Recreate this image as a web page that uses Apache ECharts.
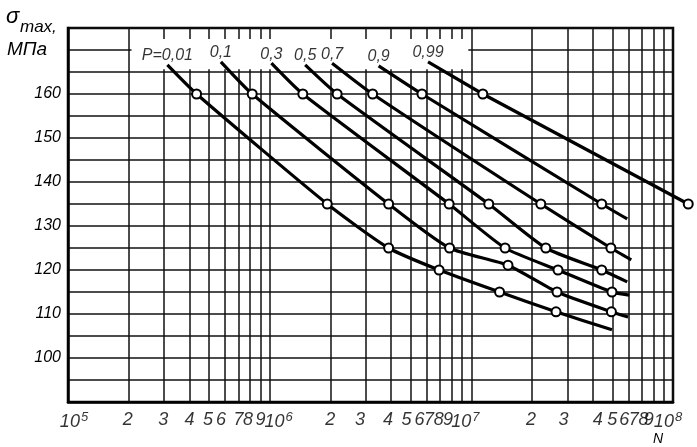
<!DOCTYPE html>
<html><head><meta charset="utf-8">
<script src="https://cdn.jsdelivr.net/npm/echarts@6/dist/echarts.min.js"></script>
<style>html,body{margin:0;padding:0;background:#fff}#c{width:697px;height:447px}</style>
</head><body><div id="c"></div>
<script>
// ---- data (N = cycles, S = sigma_max, MPa) ----
const probLabels = ['P=0,01', '0,1', '0,3', '0,5', '0,7', '0,9', '0,99'];
const N_p001 = [3.11e5, 4.34e5, 1.93e6, 3.89e6, 6.92e6, 1.38e7, 2.63e7, 4.98e7];
const S_p001 = [166.6, 160, 135, 125, 120, 115, 110.5, 106.4];
const N_p01  = [5.73e5, 8.19e5, 3.89e6, 7.8e6, 1.52e7, 2.66e7, 4.95e7, 5.99e7];
const S_p01  = [167.3, 160, 135, 125, 121.1, 115, 110.5, 109.3];
const N_p03  = [1.02e6, 1.46e6, 7.76e6, 1.47e7, 2.69e7, 4.98e7, 6.07e7];
const S_p03  = [167.0, 160, 135, 125, 120, 115, 114.3];
const N_p05  = [1.50e6, 2.16e6, 1.22e7, 2.34e7, 4.43e7, 5.93e7];
const S_p05  = [166.6, 160, 135, 125, 120, 117.3];
const N_p07  = [2.04e6, 3.24e6, 2.21e7, 4.92e7, 6.21e7];
const S_p07  = [167.0, 160, 135, 125, 122.3];
const N_p09  = [3.47e6, 5.69e6, 4.43e7, 5.93e7];
const S_p09  = [166.4, 160, 135, 131.6];
const N_p099 = [6.10e6, 1.14e7, 1.19e8];
const S_p099 = [167.3, 160, 135];
// does the curve end in a test point (circle) or a plain line end
const endsWithPoint = [false, false, false, false, false, false, true];

// ---- axes / tick labels ----
const xDecades = [5, 6, 7, 8];
const xMantissas = [1, 2, 3, 4, 5, 6, 7, 8, 9];
const yTickLabels = [100, 110, 120, 130, 140, 150, 160];
const yMin = 90, yMax = 175, yStep = 5;

// hand-lettered tick labels sit a little off their grid lines (px, per tick, styling only)
const xLabelNudge = [
  6, -1, -1, 0, -1, -4, 0, -2, 0,
  9, 0, -6, -3, -4, -7, -11, -13, -14,
  -6, -1, -4, 5, 0, -4, -8, -10, -15,
  -5
];

const curvesN = [N_p001, N_p01, N_p03, N_p05, N_p07, N_p09, N_p099];
const curvesS = [S_p001, S_p01, S_p03, S_p05, S_p07, S_p09, S_p099];

const xTicks = [];
const xTickText = [];
xDecades.forEach(d => {
  xMantissas.forEach(m => {
    if (d === 8 && m > 1) return;
    xTicks.push(Math.log10(m * Math.pow(10, d)));
    xTickText.push(m === 1 ? '{t|10}{sup|' + d + '}' : '{d|' + m + '}');
  });
});

const FONT = '"Liberation Sans", Arial, sans-serif';
const xMaxLog = Math.log10(1e8);

const series = curvesN.map((Ns, i) => {
  const runsPast = Ns.some(n => Math.log10(n) > xMaxLog);
  return {
    type: 'line',
    name: probLabels[i],
    data: Ns.map((n, j) => ({
      value: [Math.log10(n), curvesS[i][j]],
      symbol: (j === 0 || (j === Ns.length - 1 && !endsWithPoint[i])) ? 'none' : 'circle'
    })),
    symbolSize: 9,
    showSymbol: true,
    showAllSymbol: true,
    smooth: 0.2,
    clip: false,
    z: 3,
    silent: true,
    itemStyle: { color: '#fff', borderColor: '#000', borderWidth: 2, opacity: 1 },
    lineStyle: { color: '#000', width: 3.2, opacity: runsPast ? 0 : 1 },
    markArea: i === 0 ? {
      silent: true,
      itemStyle: { color: '#fff', opacity: 1 },
      data: [[{ coord: [5.315, 172.5] }, { coord: [6.985, 165.6] }]]
    } : undefined
  };
});

// curves running past the right end of the axis: unclipped polyline
curvesN.forEach((Ns, i) => {
  if (!Ns.some(n => Math.log10(n) > xMaxLog)) return;
  series.push({
    type: 'lines',
    coordinateSystem: 'cartesian2d',
    polyline: true,
    clip: false,
    silent: true,
    z: 2,
    lineStyle: { color: '#000', width: 3.2, opacity: 1 },
    data: [{ coords: Ns.map((n, j) => [Math.log10(n), curvesS[i][j]]) }]
  });
});

// probability labels at the start of each curve
series.push({
  type: 'scatter',
  silent: true,
  z: 6,
  symbolSize: 0,
  data: curvesN.map((Ns, i) => ({
    value: [Math.log10(Ns[0]), curvesS[i][0]],
    label: { formatter: probLabels[i] }
  })),
  label: {
    show: true, position: 'top', distance: 1,
    fontFamily: FONT, fontStyle: 'italic', fontSize: 16, color: '#000'
  }
});

// x tick labels (log scale), placed through the axis scale at the bottom of the grid
series.push({
  type: 'scatter',
  silent: true,
  clip: false,
  z: 6,
  symbolSize: 0,
  data: xTicks.map((t, k) => ({
    value: [t, yMin],
    label: { formatter: xTickText[k], offset: [xLabelNudge[k] || 0, 0] }
  })),
  label: {
    show: true, position: 'bottom', distance: 9,
    color: '#000', fontFamily: FONT, fontStyle: 'italic', fontSize: 18,
    rich: {
      t: { fontFamily: FONT, fontStyle: 'italic', fontSize: 18, color: '#000' },
      sup: { fontFamily: FONT, fontStyle: 'italic', fontSize: 13, color: '#000', verticalAlign: 'top', padding: [0, 0, 9, 1] },
      d: { fontFamily: FONT, fontStyle: 'italic', fontSize: 18, color: '#000' }
    }
  }
});

const chart = echarts.init(document.getElementById('c'), null, { renderer: 'canvas' });
chart.setOption({
  animation: false,
  backgroundColor: '#fff',
  grid: { left: 68, right: 24, top: 28, bottom: 45, show: true, borderColor: '#000', borderWidth: 2.5, backgroundColor: 'transparent' },
  xAxis: {
    type: 'value', min: 5, max: 8,
    axisLine: { show: true, lineStyle: { color: '#000', width: 2.5 } },
    axisTick: { show: false, customValues: xTicks },
    splitLine: { show: true, lineStyle: { color: '#111', width: 1.5 } },
    axisLabel: { show: false }
  },
  yAxis: {
    type: 'value', min: yMin, max: yMax, interval: yStep,
    axisLine: { show: true, lineStyle: { color: '#000', width: 2.5 } },
    axisTick: { show: false },
    splitLine: { show: true, lineStyle: { color: '#111', width: 1.5 } },
    axisLabel: {
      margin: 7, color: '#000',
      fontFamily: FONT, fontStyle: 'italic', fontSize: 16,
      formatter: (v) => yTickLabels.indexOf(v) >= 0 ? String(v) : ''
    }
  },
  graphic: [
    { type: 'text', left: 6, top: 6, silent: true,
      style: { text: 'σ', fontFamily: FONT, fontStyle: 'italic', fontSize: 22, fill: '#000' } },
    { type: 'text', left: 20, top: 19, silent: true,
      style: { text: 'max,', fontFamily: FONT, fontStyle: 'italic', fontSize: 17, fill: '#000' } },
    { type: 'text', left: 7, top: 40, silent: true,
      style: { text: 'МПа', fontFamily: FONT, fontStyle: 'italic', fontSize: 19, fill: '#000' } },
    { type: 'text', left: 653, top: 432, silent: true,
      style: { text: 'N', fontFamily: FONT, fontStyle: 'italic', fontSize: 14, fill: '#000' } }
  ],
  series: series
});
</script>
</body></html>
